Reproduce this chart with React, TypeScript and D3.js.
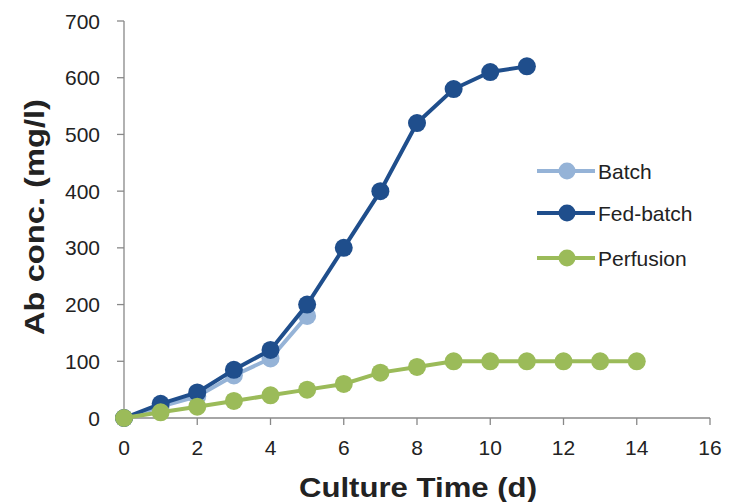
import React from "react";
import * as d3 from "d3";

const batchDays = [0, 1, 2, 3, 4, 5];
const batchValues = [0, 20, 38, 75, 105, 180];
const fedDays = [0, 1, 2, 3, 4, 5, 6, 7, 8, 9, 10, 11];
const fedValues = [0, 25, 45, 85, 120, 200, 300, 400, 520, 580, 610, 620];
const perfDays = [0, 1, 2, 3, 4, 5, 6, 7, 8, 9, 10, 11, 12, 13, 14];
const perfValues = [0, 10, 20, 30, 40, 50, 60, 80, 90, 100, 100, 100, 100, 100, 100];
const xTicks = [0, 2, 4, 6, 8, 10, 12, 14, 16];
const yTicks = [0, 100, 200, 300, 400, 500, 600, 700];
const seriesNames = ["Batch", "Fed-batch", "Perfusion"];

const colors = ["#95b3d7", "#1f4e8c", "#9bbb59"];

export default function App() {
  const W = 729, H = 502;
  const x = d3.scaleLinear().domain([0, 16]).range([124, 710]);
  const y = d3.scaleLinear().domain([0, 700]).range([418, 21]);
  const line = d3.line<[number, number]>().x(d => x(d[0])).y(d => y(d[1]));
  const series = [
    { name: seriesNames[0], pts: batchDays.map((d, i) => [d, batchValues[i]] as [number, number]), color: colors[0] },
    { name: seriesNames[1], pts: fedDays.map((d, i) => [d, fedValues[i]] as [number, number]), color: colors[1] },
    { name: seriesNames[2], pts: perfDays.map((d, i) => [d, perfValues[i]] as [number, number]), color: colors[2] },
  ];
  const legendY = [171, 213, 258];
  const font = "Liberation Sans, Arial, sans-serif";
  return (
    <svg width={W} height={H} style={{ position: "absolute", left: 0, top: 0, background: "#fff" }} fontFamily={font}>
      {/* axes */}
      <line x1={x(0)} x2={x(16)} y1={y(0)} y2={y(0)} stroke="#888" strokeWidth={1.3} />
      <line x1={x(0)} x2={x(0)} y1={y(0)} y2={y(700)} stroke="#888" strokeWidth={1.3} />
      {xTicks.map(t => (
        <g key={"xt" + t}>
          <line x1={x(t)} x2={x(t)} y1={y(0)} y2={y(0) + 7} stroke="#888" strokeWidth={1.3} />
          <text x={x(t)} y={455} textAnchor="middle" fontSize={21} fill="#222">{t}</text>
        </g>
      ))}
      {yTicks.map(t => (
        <g key={"yt" + t}>
          <line x1={x(0) - 7} x2={x(0)} y1={y(t)} y2={y(t)} stroke="#888" strokeWidth={1.3} />
          <text x={100} y={y(t) + 7.5} textAnchor="end" fontSize={21} fill="#222">{t}</text>
        </g>
      ))}
      <text x={418} y={497} textAnchor="middle" fontSize={27} fontWeight="bold" fill="#222"
        textLength={238} lengthAdjust="spacingAndGlyphs">Culture Time (d)</text>
      <text transform={`translate(44,217) rotate(-90)`} textAnchor="middle" fontSize={27} fontWeight="bold" fill="#222"
        textLength={236} lengthAdjust="spacingAndGlyphs">Ab conc. (mg/l)</text>
      {/* series */}
      {series.map(s => (
        <g key={s.name}>
          <path d={line(s.pts) || ""} fill="none" stroke={s.color} strokeWidth={4} />
          {s.pts.map((p, i) => (
            <circle key={i} cx={x(p[0])} cy={y(p[1])} r={9} fill={s.color} />
          ))}
        </g>
      ))}
      {/* legend */}
      {series.map((s, i) => (
        <g key={"lg" + s.name}>
          <line x1={537} x2={595} y1={legendY[i]} y2={legendY[i]} stroke={s.color} strokeWidth={4} />
          <circle cx={567} cy={legendY[i]} r={8.5} fill={s.color} />
          <text x={598} y={legendY[i] + 7.5} fontSize={21} fill="#222">{s.name}</text>
        </g>
      ))}
    </svg>
  );
}
